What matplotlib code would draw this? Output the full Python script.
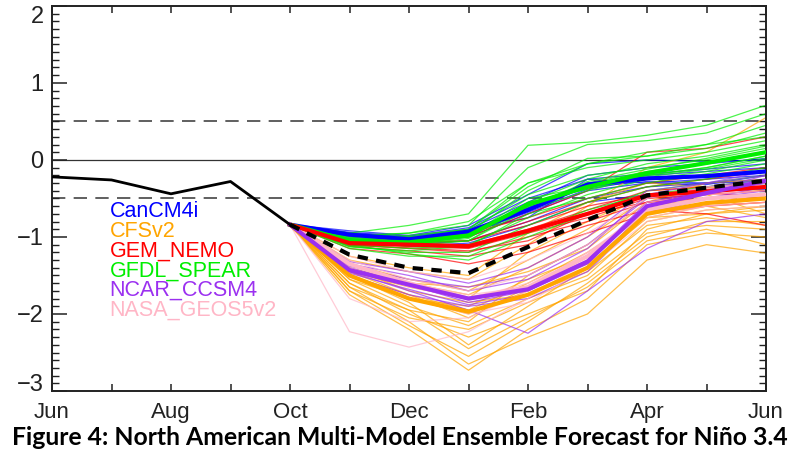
import matplotlib
matplotlib.use('Agg')
import matplotlib.pyplot as plt
from matplotlib.ticker import MultipleLocator

months = ['Jun', 'Jul', 'Aug', 'Sep', 'Oct', 'Nov', 'Dec', 'Jan', 'Feb', 'Mar', 'Apr', 'May', 'Jun']

# observed Nino 3.4 anomaly, Jun..Oct
observed = [-0.22, -0.26, -0.44, -0.28, -0.84]

# ensemble members, Nov..Jun (they all start from the last observed value)
cancm4i_members = [
	[-0.95, -1.00, -0.90, -0.55, -0.20, -0.10, -0.05, 0.02],
	[-0.98, -1.05, -0.95, -0.60, -0.30, -0.20, -0.15, -0.10],
	[-1.00, -1.08, -1.00, -0.70, -0.40, -0.30, -0.25, -0.20],
	[-0.92, -0.98, -0.85, -0.45, -0.05, 0.00, -0.02, 0.00],
	[-1.02, -1.10, -1.05, -0.80, -0.50, -0.35, -0.30, -0.25],
	[-0.97, -1.02, -0.93, -0.62, -0.35, -0.28, -0.30, -0.28],
	[-1.05, -1.12, -1.08, -0.85, -0.55, -0.45, -0.40, -0.38],
	[-0.94, -0.99, -0.88, -0.50, -0.25, -0.18, -0.12, -0.05],
	[-0.99, -1.04, -0.96, -0.68, -0.38, -0.25, -0.20, -0.15],
	[-0.96, -1.01, -0.92, -0.75, -0.25, -0.30, -0.32, -0.20],
]
cfsv2_members = [
	[-1.30, -1.45, -1.55, -1.10, -0.60, -0.10, 0.10, 0.55],
	[-1.40, -1.60, -1.75, -1.40, -1.00, -0.50, -0.40, -0.35],
	[-1.50, -1.80, -2.00, -1.70, -1.30, -0.60, -0.50, -0.50],
	[-1.60, -2.00, -2.30, -2.00, -1.70, -0.90, -0.70, -0.65],
	[-1.70, -2.15, -2.55, -2.10, -1.60, -1.00, -0.80, -0.80],
	[-1.75, -2.20, -2.73, -2.20, -1.80, -1.10, -0.95, -1.00],
	[-1.65, -2.10, -2.65, -2.30, -2.00, -1.30, -1.10, -1.21],
	[-1.45, -1.75, -1.95, -1.60, -1.20, -0.70, -0.55, -0.50],
	[-1.35, -1.55, -1.70, -1.30, -0.90, -0.40, -0.35, -0.30],
	[-1.55, -1.90, -2.15, -1.80, -1.50, -0.80, -0.65, -0.60],
	[-1.50, -1.85, -2.40, -1.90, -1.40, -0.75, -0.60, -0.55],
	[-1.25, -1.40, -1.50, -0.95, -0.55, -0.30, -0.35, -0.40],
	[-1.60, -1.95, -2.10, -1.50, -1.10, -0.55, -0.45, -0.70],
	[-1.40, -1.70, -1.85, -1.75, -1.45, -0.85, -0.75, -0.85],
	[-1.55, -1.80, -1.90, -1.55, -1.25, -0.65, -0.60, -0.75],
	[-1.70, -2.05, -2.20, -1.85, -1.55, -0.95, -0.85, -0.90],
	[-1.45, -1.65, -1.80, -1.20, -0.80, -0.45, -0.50, -0.45],
	[-1.35, -1.60, -1.65, -1.45, -1.15, -0.55, -0.30, -0.25],
	[-1.65, -1.95, -2.45, -2.05, -1.65, -1.05, -0.90, -1.10],
	[-1.50, -1.75, -2.05, -1.65, -1.35, -0.75, -0.70, -0.60],
]
gem_members = [
	[-1.05, -1.05, -1.00, -0.70, -0.40, 0.10, 0.15, 0.30],
	[-1.10, -1.15, -1.20, -1.00, -0.80, -0.55, -0.50, -0.45],
	[-1.08, -1.10, -1.10, -0.90, -0.65, -0.40, -0.35, -0.30],
	[-1.12, -1.18, -1.25, -1.10, -0.85, -0.65, -0.70, -0.85],
	[-1.06, -1.08, -1.05, -0.80, -0.55, -0.35, -0.25, -0.15],
	[-1.15, -1.22, -1.35, -1.20, -0.95, -0.70, -0.60, -0.55],
	[-1.04, -1.02, -0.95, -0.75, -0.50, -0.30, -0.20, -0.10],
	[-1.09, -1.12, -1.15, -0.95, -0.75, -0.50, -0.45, -0.40],
	[-1.07, -1.06, -1.05, -0.85, -0.60, -0.45, -0.38, -0.35],
	[-1.11, -1.14, -1.18, -1.05, -0.70, -0.55, -0.42, -0.50],
]
gfdl_members = [
	[-0.95, -0.85, -0.70, 0.19, 0.23, 0.32, 0.45, 0.71],
	[-1.00, -0.95, -0.85, -0.10, 0.20, 0.25, 0.35, 0.60],
	[-1.02, -1.00, -0.90, -0.35, 0.02, 0.05, 0.20, 0.45],
	[-1.05, -1.05, -0.95, -0.40, -0.05, 0.05, 0.15, 0.35],
	[-1.08, -1.10, -1.00, -0.55, -0.25, -0.05, 0.05, 0.20],
	[-1.06, -1.08, -1.05, -0.60, -0.30, -0.15, -0.05, 0.10],
	[-1.04, -1.02, -0.92, -0.45, -0.20, -0.10, 0.00, 0.15],
	[-1.10, -1.15, -1.10, -0.75, -0.45, -0.25, -0.15, 0.00],
	[-1.12, -1.20, -1.20, -0.85, -0.55, -0.35, -0.25, -0.10],
	[-1.03, -1.00, -0.98, -0.50, -0.35, -0.20, -0.10, 0.05],
	[-1.07, -1.12, -1.05, -0.65, -0.40, -0.20, -0.10, 0.05],
	[-0.98, -0.95, -0.80, -0.30, -0.10, 0.00, 0.10, 0.25],
	[-1.15, -1.25, -1.25, -0.95, -0.65, -0.45, -0.35, -0.25],
	[-1.09, -1.10, -1.02, -0.55, -0.38, -0.22, -0.12, 0.02],
	[-1.01, -0.98, -0.90, -0.30, -0.05, 0.10, 0.20, 0.30],
	[-1.13, -1.18, -1.12, -0.70, -0.50, -0.30, -0.18, -0.05],
	[-1.05, -1.06, -0.97, -0.62, -0.28, -0.12, 0.02, 0.18],
	[-1.10, -1.22, -1.30, -1.00, -0.70, -0.40, -0.30, -0.20],
]
ncar_members = [
	[-1.40, -1.60, -1.80, -1.65, -1.30, -0.55, -0.40, -0.20],
	[-1.35, -1.50, -1.70, -1.55, -1.15, -0.45, -0.30, -0.15],
	[-1.45, -1.70, -1.95, -2.25, -1.70, -1.15, -0.80, -0.70],
	[-1.38, -1.55, -1.65, -1.50, -1.10, -0.50, -0.35, -0.25],
	[-1.50, -1.75, -1.90, -1.80, -1.45, -0.70, -0.50, -0.35],
	[-1.42, -1.62, -1.85, -1.70, -1.35, -0.60, -0.45, -0.30],
	[-1.32, -1.45, -1.60, -1.40, -1.00, -0.40, -0.30, -0.20],
	[-1.47, -1.68, -1.88, -1.75, -1.40, -0.65, -0.50, -0.40],
]
nasa_members = [
	[-1.30, -1.55, -1.70, -1.50, -1.10, -0.55, -0.45, -0.40],
	[-2.23, -2.43, -2.23, -1.80, -1.30, -0.75, -0.60, -0.55],
	[-1.40, -1.65, -1.80, -1.60, -1.25, -0.70, -0.55, -0.50],
	[-1.25, -1.45, -1.55, -1.30, -0.95, -0.50, -0.35, -0.30],
	[-1.50, -1.80, -2.00, -1.85, -1.40, -0.80, -0.65, -0.60],
	[-1.35, -1.60, -1.75, -1.65, -1.20, -0.65, -0.50, -0.45],
	[-1.80, -2.10, -2.05, -1.70, -1.20, -0.70, -0.60, -0.50],
]

# ensemble means, Nov..Jun
cancm4i_mean = [-0.97, -1.03, -0.93, -0.65, -0.32, -0.24, -0.21, -0.15]
cfsv2_mean = [-1.50, -1.80, -1.97, -1.75, -1.40, -0.70, -0.56, -0.50]
gem_mean = [-1.08, -1.10, -1.12, -0.92, -0.70, -0.46, -0.41, -0.35]
gfdl_mean = [-1.05, -1.07, -0.98, -0.58, -0.35, -0.17, -0.04, 0.10]
ncar_mean = [-1.43, -1.62, -1.80, -1.68, -1.32, -0.60, -0.43, -0.27]
nasa_mean = [-1.35, -1.60, -1.80, -1.65, -1.25, -0.65, -0.50, -0.45]
nmme_mean = [-1.23, -1.40, -1.47, -1.13, -0.78, -0.46, -0.36, -0.27]

model_names = ['CanCM4i', 'CFSv2', 'GEM_NEMO', 'GFDL_SPEAR', 'NCAR_CCSM4', 'NASA_GEOS5v2']
model_colors = ['#0000ff', '#ffa500', '#ff0000', '#00ee00', '#9b30f0', '#ffb6c6']
members = [cancm4i_members, cfsv2_members, gem_members, gfdl_members, ncar_members, nasa_members]

x_obs = list(range(len(observed)))
x_fc = list(range(len(observed) - 1, len(months)))
start = observed[-1]

fig = plt.figure(figsize=(8, 4.51), dpi=100)
ax = fig.add_axes([0.065, 0.133, 0.8925, 0.854])

ax.axhline(0, color='#333333', lw=0.9, zorder=1)
for h in (0.5, -0.5):
	ax.axhline(h, color='#444444', lw=1.2, dashes=(8, 5), zorder=1)

# thin member lines
for runs, col in zip(members, model_colors):
	for r in runs:
		ax.plot(x_fc, [start] + r, color=col, lw=0.9, alpha=0.7, zorder=2)

# thick ensemble means
for m, col in zip([nasa_mean, cancm4i_mean, gfdl_mean, gem_mean, cfsv2_mean, ncar_mean],
		['#ffb6c6', '#0000ff', '#00ee00', '#ff0000', '#ffa500', '#9b30f0']):
	ax.plot(x_fc, [start] + m, color=col, lw=3, zorder=3, solid_joinstyle='round')

ax.plot(x_fc, [start] + nmme_mean, color='black', lw=3, dashes=(2.5, 2), zorder=4)
ax.plot(x_obs, observed, color='black', lw=2, zorder=4)

# model labels
for i, (name, col) in enumerate(zip(model_names, model_colors)):
	ax.text(0.97, -0.675 - 0.255 * i, name, color=col, fontsize=15.5, va='center', ha='left',
		family='Liberation Sans', zorder=5)

ax.set_xlim(0, 12)
ax.set_ylim(-3, 2)
ax.set_xticks(range(len(months)))
ax.set_xticklabels([m if i % 2 == 0 else '' for i, m in enumerate(months)], family='Liberation Sans')
ax.set_yticks([-3, -2, -1, 0, 1, 2])
ax.set_yticklabels(['\u22123', '\u22122', '\u22121', '0', '1', '2'], family='Liberation Sans')
ax.yaxis.set_minor_locator(MultipleLocator(0.1))
ax.tick_params(axis='x', which='major', direction='in', top=True, length=5, width=1.1,
	labelsize=16, pad=8, colors='#222222')
ax.tick_params(axis='y', which='major', direction='in', right=True, length=11, width=1.1,
	labelsize=17, pad=6, colors='#222222')
ax.tick_params(axis='y', which='minor', direction='in', right=True, length=5, width=1.0,
	colors='#222222')
ylabels = ax.get_yticklabels()
ylabels[-1].set_va('top')
ylabels[0].set_va('baseline')
for s in ax.spines.values():
	s.set_linewidth(1.4)
	s.set_color('#222222')

fig.text(0.5, 0.031, 'Figure 4: North American Multi-Model Ensemble Forecast for Ni\u00f1o 3.4',
	ha='center', va='center', fontsize=17.8, fontweight='bold', family='Lato')

fig.savefig('out.png', dpi=100)
